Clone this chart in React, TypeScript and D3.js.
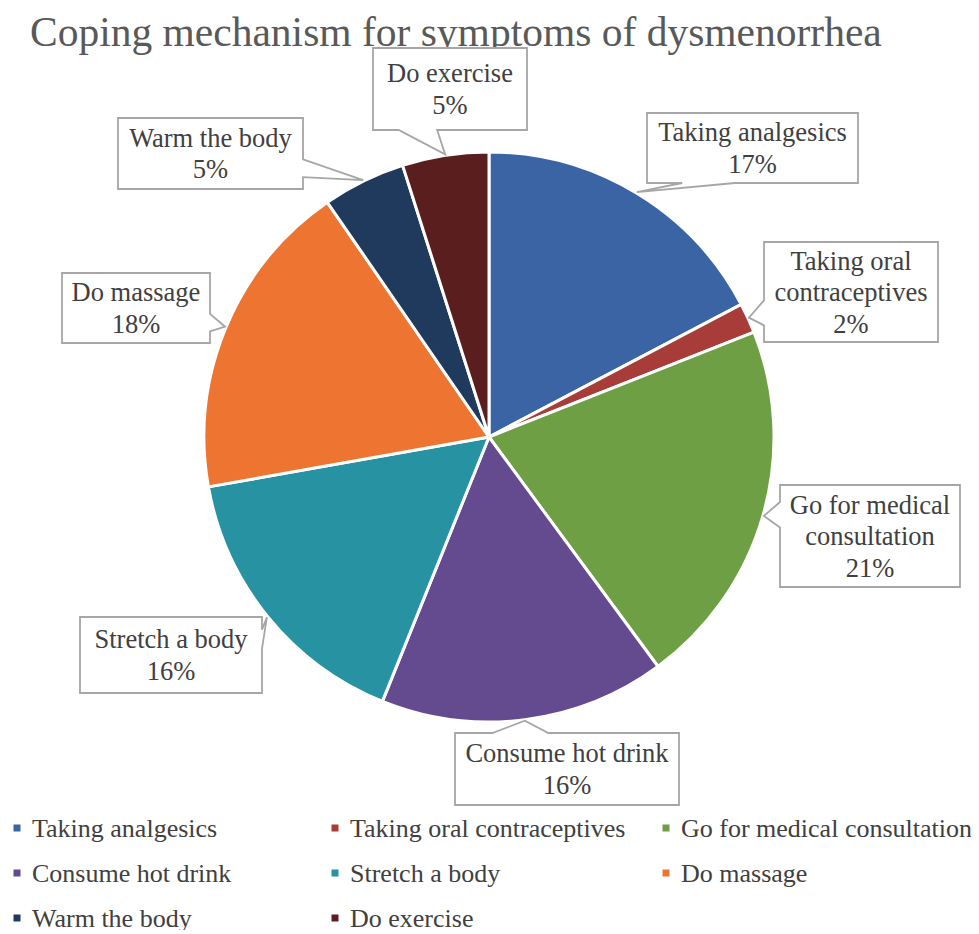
import React from "react";
import * as d3 from "d3";

const title = "Coping mechanism for symptoms of dysmenorrhea";
const categories = [
  "Taking analgesics",
  "Taking oral contraceptives",
  "Go for medical consultation",
  "Consume hot drink",
  "Stretch a body",
  "Do massage",
  "Warm the body",
  "Do exercise",
];
const values = [17.3, 1.7, 20.9, 16.2, 16.1, 18.2, 4.7, 4.9];
const colors = ["#3B64A5", "#A83C38", "#6F9F45", "#644A8F", "#2692A2", "#EE7531", "#1F3A5D", "#5A1E1E"];
const labelLines = [
  ["Taking analgesics"],
  ["Taking oral", "contraceptives"],
  ["Go for medical", "consultation"],
  ["Consume hot drink"],
  ["Stretch a body"],
  ["Do massage"],
  ["Warm the body"],
  ["Do exercise"],
];
// callout box layout: [x, y, w, h]
const boxes = [
  [647, 113, 211, 70],
  [764, 242, 174, 100],
  [780, 485, 180, 102],
  [455, 733, 224, 72],
  [80, 617, 182, 76],
  [62, 273, 148, 70],
  [118, 118, 185, 71],
  [373, 48, 154, 82],
];
const legendCols = [17, 335, 666];
const legendRows = [828, 873, 918];

const W = 979, H = 934;
const cx = 489, cy = 437, R = 285;
const FONT = "Liberation Serif";

function calloutPath(x: number, y: number, w: number, h: number, tx: number, ty: number) {
  const hc = x + w / 2, vc = y + h / 2;
  const dx = tx - hc, dy = ty - vc;
  const dq = (dx * h) / w;
  if (Math.abs(dy) > Math.abs(dq)) {
    const x1 = x + (w * (dx > 0 ? 7 : 2)) / 12;
    const x2 = x + (w * (dx > 0 ? 10 : 5)) / 12;
    if (dy < 0) {
      return `M${x},${y}L${x1},${y}L${tx},${ty}L${x2},${y}L${x + w},${y}L${x + w},${y + h}L${x},${y + h}Z`;
    }
    return `M${x},${y}L${x + w},${y}L${x + w},${y + h}L${x2},${y + h}L${tx},${ty}L${x1},${y + h}L${x},${y + h}Z`;
  }
  const y1 = y + (h * (dy > 0 ? 7 : 2)) / 12;
  const y2 = y + (h * (dy > 0 ? 10 : 5)) / 12;
  if (dx < 0) {
    return `M${x},${y}L${x + w},${y}L${x + w},${y + h}L${x},${y + h}L${x},${y2}L${tx},${ty}L${x},${y1}Z`;
  }
  return `M${x},${y}L${x + w},${y}L${x + w},${y1}L${tx},${ty}L${x + w},${y2}L${x + w},${y + h}L${x},${y + h}Z`;
}

export default function App() {
  const total = d3.sum(values);
  const pie = d3.pie<number>().sort(null).value((d) => d)(values);
  const arc = d3.arc<d3.PieArcDatum<number>>().innerRadius(0).outerRadius(R);
  const pct = d3.format(".0%");

  return (
    <div style={{ margin: -8 }}>
      <svg width={W} height={H} fontFamily={FONT}>
        <rect width={W} height={H} fill="#fff" />
        <text x={30} y={46} fontFamily={FONT} fontSize={41.5} fill="#595959">
          {title}
        </text>
        <g transform={`translate(${cx},${cy})`}>
          {pie.map((p, i) => (
            <path key={i} d={arc(p) || ""} fill={colors[i]} stroke="#fff" strokeWidth={3} strokeLinejoin="round" />
          ))}
        </g>
        {pie.map((p, i) => {
          const a = (p.startAngle + p.endAngle) / 2;
          const tx = cx + Math.sin(a) * (R + 1);
          const ty = cy - Math.cos(a) * (R + 1);
          const [bx, by, bw, bh] = boxes[i];
          const lines = [...labelLines[i], pct(values[i] / total)];
          const lh = 31.5;
          const y0 = by + bh / 2 - ((lines.length - 1) * lh) / 2;
          return (
            <g key={i}>
              <path d={calloutPath(bx, by, bw, bh, tx, ty)} fill="#fff" stroke="#A6A6A6" strokeWidth={1.8} />
              {lines.map((l, j) => (
                <text
                  key={j}
                  x={bx + bw / 2}
                  y={y0 + j * lh + 9}
                  textAnchor="middle"
                  fontFamily={FONT}
                  fontSize={26.5}
                  fill="#404040"
                >
                  {l}
                </text>
              ))}
            </g>
          );
        })}
        {categories.map((c, i) => {
          const col = i % 3, row = Math.floor(i / 3);
          const x = legendCols[col], y = legendRows[row];
          return (
            <g key={c}>
              <rect x={x - 3.5} y={y - 3.5} width={7} height={7} fill={colors[i]} />
              <text x={x + 15} y={y + 9} fontFamily={FONT} fontSize={26} fill="#404040">
                {c}
              </text>
            </g>
          );
        })}
      </svg>
    </div>
  );
}
